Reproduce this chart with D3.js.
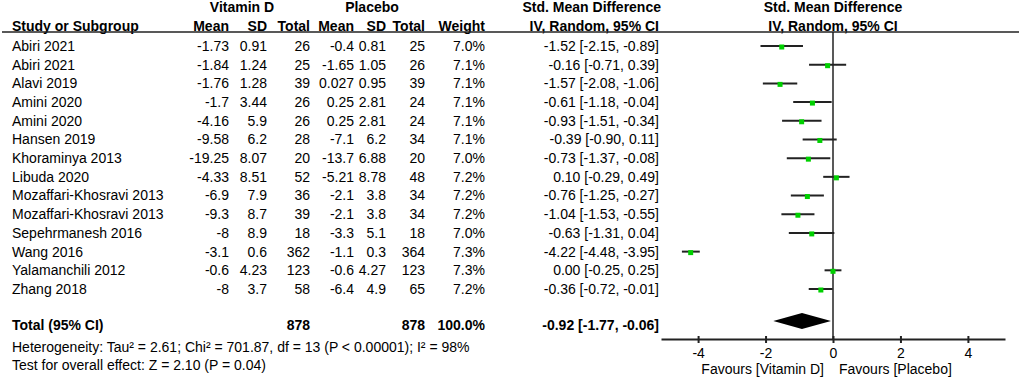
<!DOCTYPE html>
<html>
<head>
<meta charset="utf-8">
<script src="https://cdn.jsdelivr.net/npm/d3@7"></script>
<style>
  body { margin: 0; background: #fff; }
  svg { display: block; font-family: "Liberation Sans", Arial, sans-serif; }
  text { font-size: 14px; fill: #000; }
  .b { font-weight: bold; }
</style>
</head>
<body>
<div id="chart"></div>
<script>
// Study rows
const studies = ["Abiri 2021", "Abiri 2021", "Alavi 2019", "Amini 2020", "Amini 2020", "Hansen 2019",
  "Khoraminya 2013", "Libuda 2020", "Mozaffari-Khosravi 2013", "Mozaffari-Khosravi 2013",
  "Sepehrmanesh 2016", "Wang 2016", "Yalamanchili 2012", "Zhang 2018"];
const vitMean = [-1.73, -1.84, -1.76, -1.7, -4.16, -9.58, -19.25, -4.33, -6.9, -9.3, -8, -3.1, -0.6, -8];
const vitSD = [0.91, 1.24, 1.28, 3.44, 5.9, 6.2, 8.07, 8.51, 7.9, 8.7, 8.9, 0.6, 4.23, 3.7];
const vitN = [26, 25, 39, 26, 26, 28, 20, 52, 36, 39, 18, 362, 123, 58];
const plaMean = [-0.4, -1.65, 0.027, 0.25, 0.25, -7.1, -13.7, -5.21, -2.1, -2.1, -3.3, -1.1, -0.6, -6.4];
const plaSD = [0.81, 1.05, 0.95, 2.81, 2.81, 6.2, 6.88, 8.78, 3.8, 3.8, 5.1, 0.3, 4.27, 4.9];
const plaN = [25, 26, 39, 24, 24, 34, 20, 48, 34, 34, 18, 364, 123, 65];
const weight = [7.0, 7.1, 7.1, 7.1, 7.1, 7.1, 7.0, 7.2, 7.2, 7.2, 7.0, 7.3, 7.3, 7.2];
const smd = [-1.52, -0.16, -1.57, -0.61, -0.93, -0.39, -0.73, 0.10, -0.76, -1.04, -0.63, -4.22, 0.00, -0.36];
const ciLow = [-2.15, -0.71, -2.08, -1.18, -1.51, -0.90, -1.37, -0.29, -1.25, -1.53, -1.31, -4.48, -0.25, -0.72];
const ciHigh = [-0.89, 0.39, -1.06, -0.04, -0.34, 0.11, -0.08, 0.49, -0.27, -0.55, 0.04, -3.95, 0.25, -0.01];

// Pooled result
const totalVit = 878, totalPla = 878, totalWeight = 100.0;
const pooled = { est: -0.92, lo: -1.77, hi: -0.06 };
const heterogeneity = "Heterogeneity: Tau² = 2.61; Chi² = 701.87, df = 13 (P < 0.00001); I² = 98%";
const overall = "Test for overall effect: Z = 2.10 (P = 0.04)";
const axisTicks = [-4, -2, 0, 2, 4];

const width = 1021, height = 381;
const svg = d3.select("#chart").append("svg")
  .attr("width", width).attr("height", height);

// plain hyphen for negatives, like the original
const loc = d3.formatLocale({ decimal: ".", thousands: ",", grouping: [3], currency: ["", ""], minus: "-" });
const f2 = loc.format(".2f"), f1 = loc.format(".1f");
const ci = (e, l, h) => `${f2(e)} [${f2(l)}, ${f2(h)}]`;

// row positions
const y = d3.scaleLinear().domain([0, studies.length - 1]).range([46, 289]);
const yTotal = 325, yAxis = 339, yHead = 26, yLine = 32;
const left = 12;

// plot scale
const x = d3.scaleLinear().domain([-5.1, 5.1]).range([661, 1005]);

// column right edges
const col = { vm: 229, vs: 267, vn: 310, pm: 354, ps: 386, pn: 425, w: 485, ci: 659 };

// headers
svg.append("text").attr("class", "b").attr("x", 242).attr("y", 7).attr("dy", "0.35em")
   .attr("text-anchor", "middle").text("Vitamin D");
svg.append("text").attr("class", "b").attr("x", 372).attr("y", 7).attr("dy", "0.35em")
   .attr("text-anchor", "middle").text("Placebo");
svg.append("text").attr("class", "b").attr("x", col.ci + 2).attr("y", 7).attr("dy", "0.35em")
   .attr("text-anchor", "end").text("Std. Mean Difference");
svg.append("text").attr("class", "b").attr("x", x(0)).attr("y", 7).attr("dy", "0.35em")
   .attr("text-anchor", "middle").text("Std. Mean Difference");

svg.append("text").attr("class", "b").attr("x", left).attr("y", yHead).attr("dy", "0.35em")
   .text("Study or Subgroup");
const heads = [["vm", "Mean"], ["vs", "SD"], ["vn", "Total"], ["pm", "Mean"], ["ps", "SD"],
  ["pn", "Total"], ["w", "Weight"], ["ci", "IV, Random, 95% CI"]];
heads.forEach(([k, t]) => {
  svg.append("text").attr("class", "b").attr("x", col[k]).attr("y", yHead).attr("dy", "0.35em")
     .attr("text-anchor", "end").text(t);
});
svg.append("text").attr("class", "b").attr("x", x(0)).attr("y", yHead).attr("dy", "0.35em")
   .attr("text-anchor", "middle").text("IV, Random, 95% CI");

svg.append("line").attr("x1", 2).attr("x2", 1019).attr("y1", yLine).attr("y2", yLine)
   .attr("stroke", "#222").attr("stroke-width", 1.5);

// table rows
const rows = svg.append("g").selectAll("g").data(studies).join("g")
  .attr("transform", (d, i) => `translate(0,${y(i)})`);
rows.append("text").attr("x", left).attr("dy", "0.35em").text(d => d);
const cells = [["vm", vitMean], ["vs", vitSD], ["vn", vitN], ["pm", plaMean], ["ps", plaSD], ["pn", plaN]];
cells.forEach(([k, arr]) => {
  rows.append("text").attr("x", col[k]).attr("dy", "0.35em").attr("text-anchor", "end")
      .text((d, i) => String(arr[i]));
});
rows.append("text").attr("x", col.w).attr("dy", "0.35em").attr("text-anchor", "end")
    .text((d, i) => f1(weight[i]) + "%");
rows.append("text").attr("x", col.ci).attr("dy", "0.35em").attr("text-anchor", "end")
    .text((d, i) => ci(smd[i], ciLow[i], ciHigh[i]));

// total row
const tot = svg.append("g").attr("transform", `translate(0,${yTotal})`);
tot.append("text").attr("class", "b").attr("x", left).attr("dy", "0.35em").text("Total (95% CI)");
tot.append("text").attr("class", "b").attr("x", col.vn).attr("dy", "0.35em").attr("text-anchor", "end").text(totalVit);
tot.append("text").attr("class", "b").attr("x", col.pn).attr("dy", "0.35em").attr("text-anchor", "end").text(totalPla);
tot.append("text").attr("class", "b").attr("x", col.w).attr("dy", "0.35em").attr("text-anchor", "end").text(f1(totalWeight) + "%");
tot.append("text").attr("class", "b").attr("x", col.ci).attr("dy", "0.35em").attr("text-anchor", "end")
   .text(ci(pooled.est, pooled.lo, pooled.hi));

svg.append("text").attr("x", left).attr("y", 347).attr("dy", "0.35em").text(heterogeneity);
svg.append("text").attr("x", left).attr("y", 365).attr("dy", "0.35em").text(overall);

// zero line
svg.append("line").attr("x1", x(0)).attr("x2", x(0)).attr("y1", yLine).attr("y2", yAxis)
   .attr("stroke", "#222").attr("stroke-width", 1.5);

// CI whiskers and squares
const marks = svg.append("g");
marks.selectAll("line").data(studies).join("line")
  .attr("x1", (d, i) => x(ciLow[i])).attr("x2", (d, i) => x(ciHigh[i]))
  .attr("y1", (d, i) => y(i)).attr("y2", (d, i) => y(i))
  .attr("stroke", "#222").attr("stroke-width", 2);
marks.selectAll("rect").data(studies).join("rect")
  .attr("x", (d, i) => x(smd[i]) - 2.5).attr("y", (d, i) => y(i) - 1.5)
  .attr("width", 5).attr("height", 5).attr("fill", "#00d000");

// pooled diamond
const yd = yTotal - 4;
svg.append("path")
  .attr("d", `M${x(pooled.lo)},${yd}L${x(pooled.est)},${yd - 8}L${x(pooled.hi)},${yd}L${x(pooled.est)},${yd + 8}Z`)
  .attr("fill", "#000");

// axis
const ax = svg.append("g").attr("transform", `translate(0,${yAxis})`)
  .call(d3.axisBottom(x).tickValues(axisTicks).tickSize(4).tickSizeOuter(0).tickPadding(5).tickFormat(loc.format("d")));
ax.attr("font-family", null).attr("font-size", null);
ax.select(".domain").attr("stroke", "#222").attr("stroke-width", 2);
ax.selectAll(".tick line").attr("y1", -3).attr("stroke", "#222").attr("stroke-width", 2);
ax.selectAll(".tick text").attr("fill", "#000");

svg.append("text").attr("x", x(0) - 9).attr("y", 369).attr("dy", "0.35em").attr("text-anchor", "end")
   .text("Favours [Vitamin D]");
svg.append("text").attr("x", x(0) + 6).attr("y", 369).attr("dy", "0.35em")
   .text("Favours [Placebo]");
</script>
</body>
</html>
